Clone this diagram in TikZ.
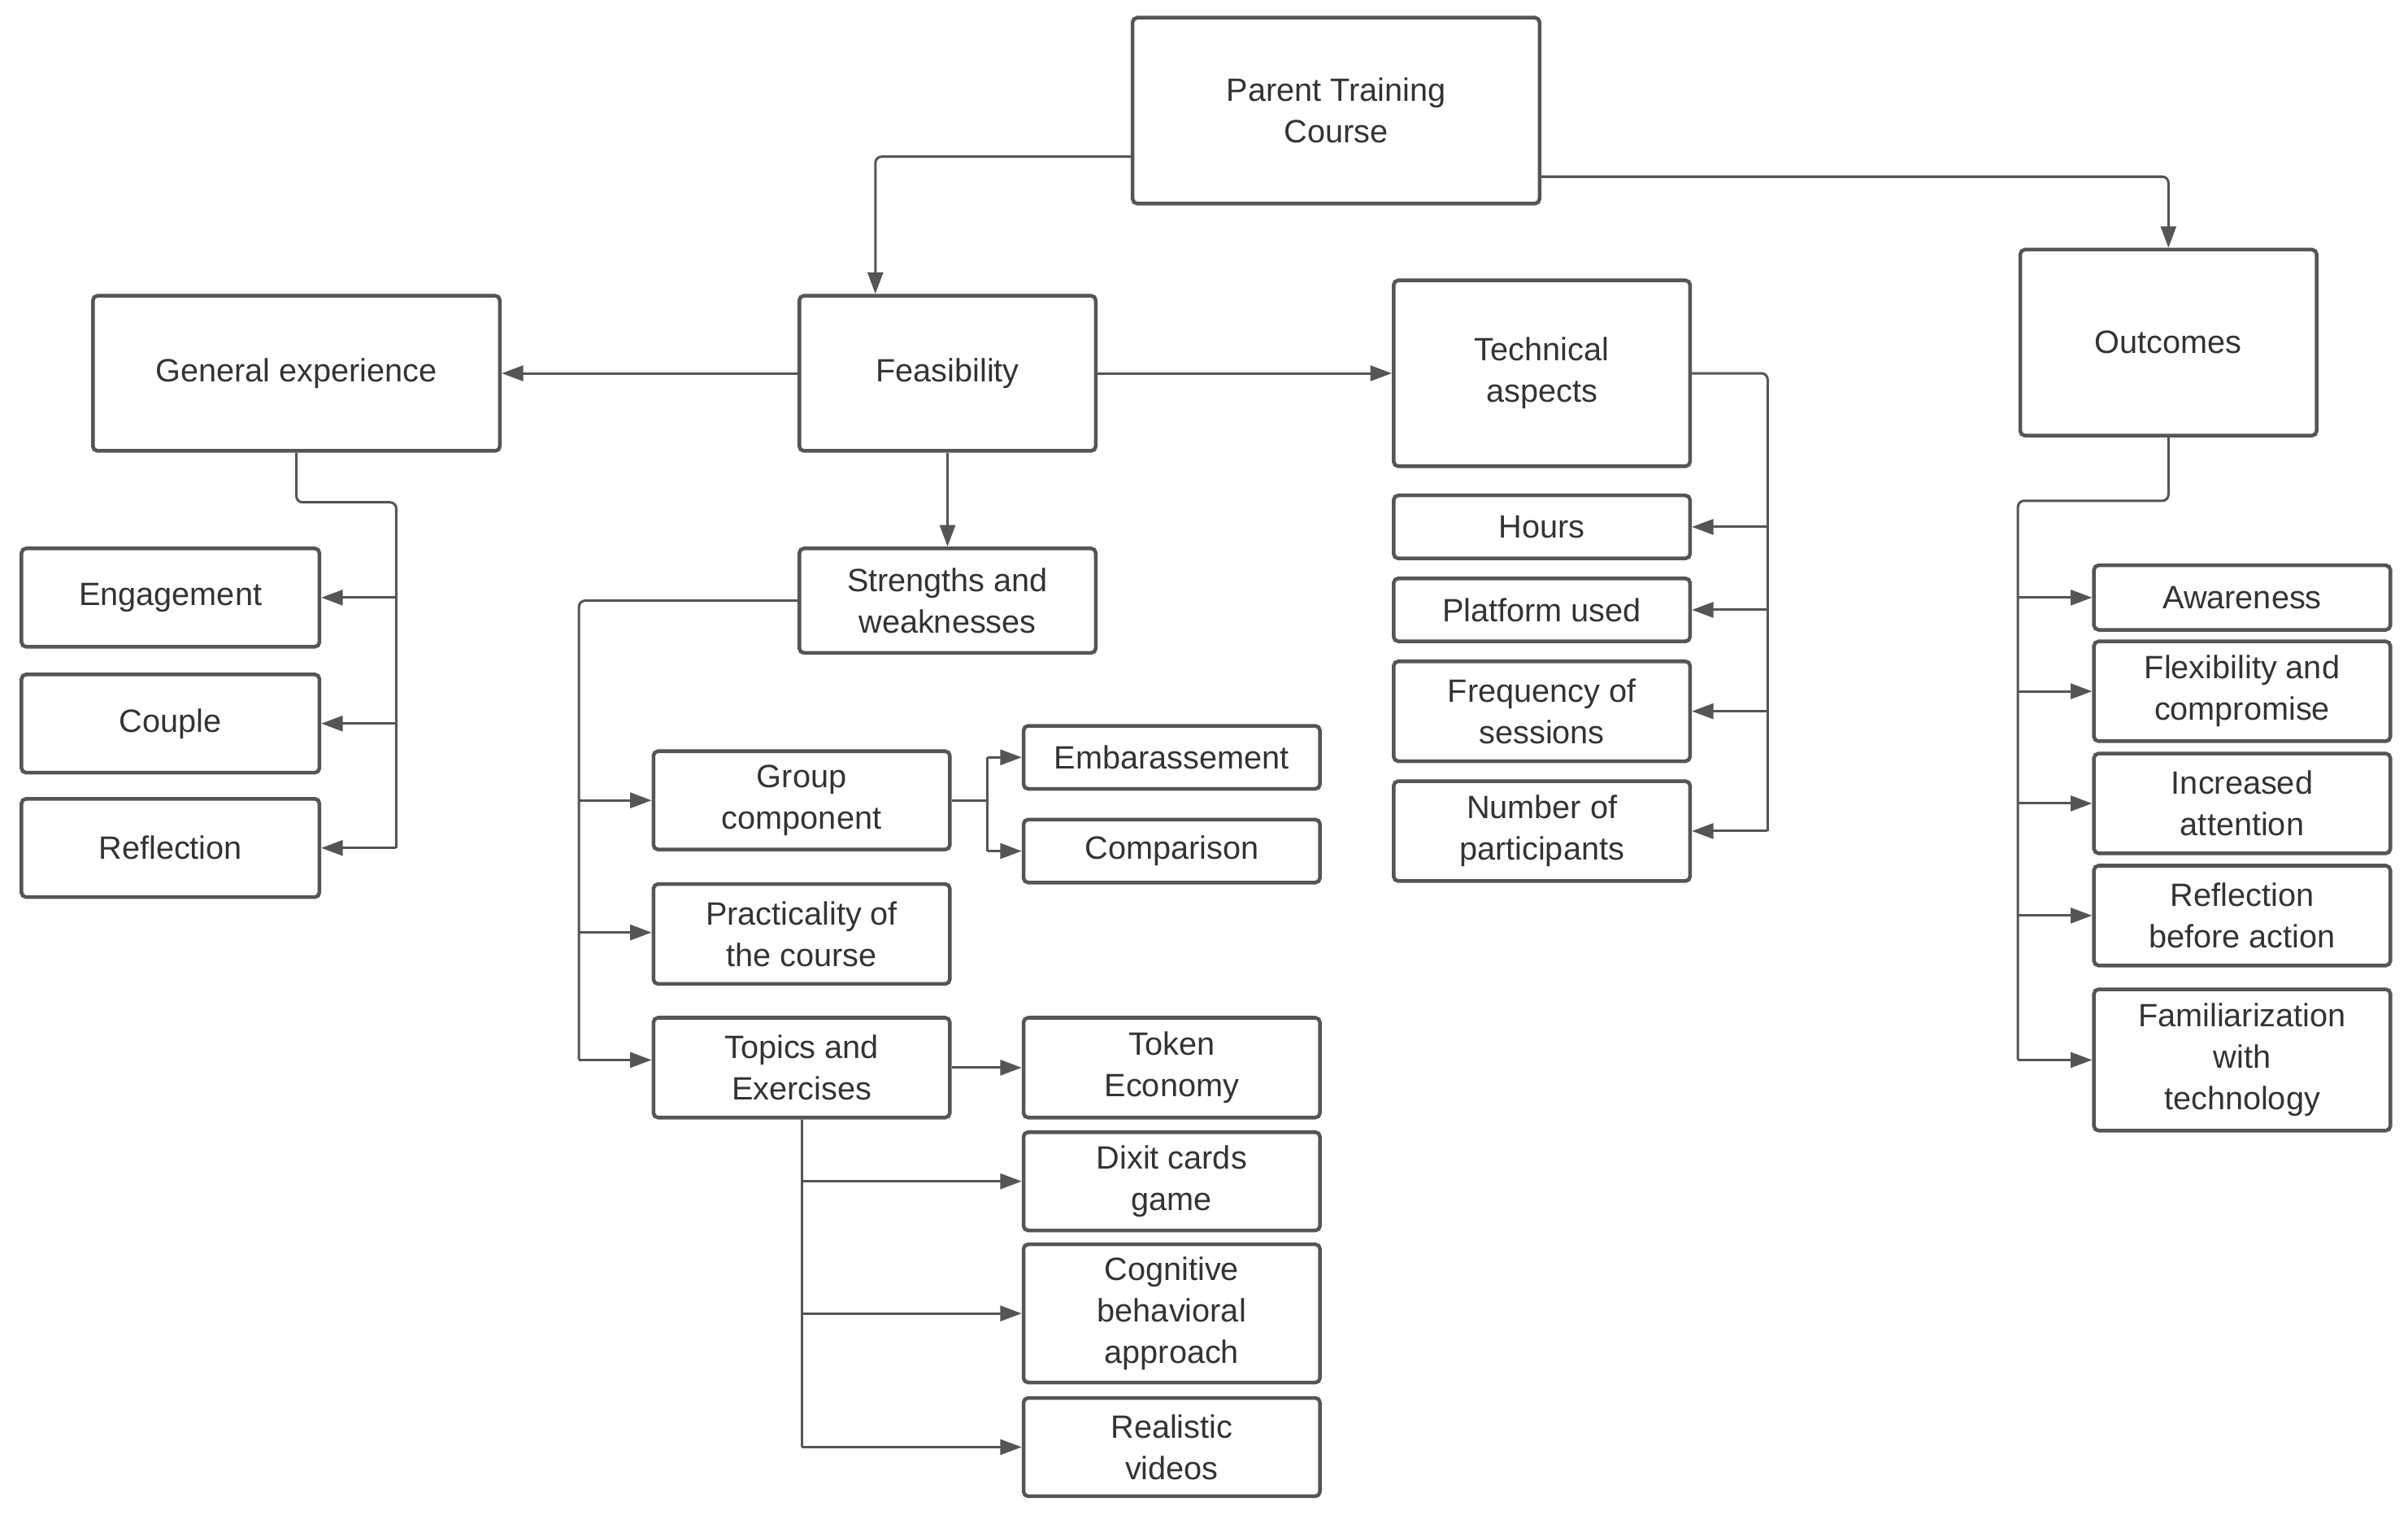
\documentclass[tikz,border=0pt]{standalone}
\usepackage{fontspec}
\setmainfont{Liberation Sans}
\usetikzlibrary{arrows.meta}
\definecolor{ln}{HTML}{555555}
\definecolor{tx}{HTML}{333333}
\begin{document}
\begin{tikzpicture}[x=1pt,y=-1pt,
  box/.style={draw=ln,line width=2.4pt,rounded corners=3pt,align=center,text=tx,
    font=\fontsize{21}{27}\selectfont,inner sep=0pt},
  ar/.style={draw=ln,line width=1.6pt,-{Triangle[length=14pt,width=10pt]}},
  ln/.style={draw=ln,line width=1.6pt,rounded corners=4pt}]
\useasboundingbox (0,0) rectangle (1568,986);
\newcommand{\bx}[6]{\node[box,minimum width=#3,minimum height=#4] (#1) at (#2) {#5};}
\node[box,minimum width=265,minimum height=121] (par) at (870,72) {Parent Training\\Course};
\node[box,minimum width=265,minimum height=101] (gen) at (193,243) {General experience};
\node[box,minimum width=193,minimum height=101] (fea) at (617,243) {Feasibility};
\node[box,minimum width=193,minimum height=121] (tec) at (1004,243) {Technical\\aspects};
\node[box,minimum width=193,minimum height=121] (out) at (1412,223) {Outcomes};
\node[box,minimum width=194,minimum height=64] (eng) at (111,389) {Engagement};
\node[box,minimum width=194,minimum height=64] (cou) at (111,471) {Couple};
\node[box,minimum width=194,minimum height=64] (ref) at (111,552) {Reflection};
\node[box,minimum width=193,minimum height=68] (str) at (617,391) {Strengths and\\weaknesses};
\node[box,minimum width=193,minimum height=64] (grp) at (522,521) {Group\\component};
\node[box,minimum width=193,minimum height=41] (emb) at (763,493) {Embarassement};
\node[box,minimum width=193,minimum height=41] (cmp) at (763,554) {Comparison};
\node[box,minimum width=193,minimum height=65] (pra) at (522,608) {Practicality of\\the course};
\node[box,minimum width=193,minimum height=65] (top) at (522,695) {Topics and\\Exercises};
\node[box,minimum width=193,minimum height=65] (tok) at (763,695) {Token\\Economy};
\node[box,minimum width=193,minimum height=64] (dix) at (763,769) {Dixit cards\\game};
\node[box,minimum width=193,minimum height=90] (cog) at (763,855) {Cognitive\\behavioral\\approach};
\node[box,minimum width=193,minimum height=64] (rea) at (763,942) {Realistic\\videos};
\node[box,minimum width=193,minimum height=41] (hou) at (1004,343) {Hours};
\node[box,minimum width=193,minimum height=41] (pla) at (1004,397) {Platform used};
\node[box,minimum width=193,minimum height=65] (fre) at (1004,463) {Frequency of\\sessions};
\node[box,minimum width=193,minimum height=65] (num) at (1004,541) {Number of\\participants};
\node[box,minimum width=193,minimum height=42] (awa) at (1460,389) {Awareness};
\node[box,minimum width=193,minimum height=65] (fle) at (1460,450) {Flexibility and\\compromise};
\node[box,minimum width=193,minimum height=65] (inc) at (1460,523) {Increased\\attention};
\node[box,minimum width=193,minimum height=65] (rbe) at (1460,596) {Reflection\\before action};
\node[box,minimum width=193,minimum height=92] (fam) at (1460,690) {Familiarization\\with\\technology};
% top
\draw[ar,rounded corners=4pt] (par.west |- 0,102) -| (fea.north -| 570,0);
\draw[ar,rounded corners=4pt] (par.east |- 0,115) -| (out.north);
\draw[ar] (fea) -- (gen);
\draw[ar] (fea) -- (tec);
\draw[ar] (fea) -- (str);
% general
\coordinate (g1) at (258,327);
\draw[ln] (gen.south) |- (g1) -- (258,552);
\foreach \n/\y in {eng/389,cou/471,ref/552} \draw[ar] (258,\y) -- (\n.east |- 0,\y);
% strengths
\draw[ln] (str.west) -| (377,690);
\foreach \n/\y in {grp/521,pra/607,top/690} \draw[ar] (377,\y) -- (\n.west |- 0,\y);
\draw[ln] (grp.east) -- (643,521);
\draw[ln] (643,493) -- (643,554);
\draw[ar] (643,493) -- (emb.west);
\draw[ar] (643,554) -- (cmp.west);
\draw[ar] (top) -- (tok);
\draw[ln] (top.south) -- (522,942);
\foreach \n/\y in {dix/769,cog/855,rea/942} \draw[ar] (522,\y) -- (\n.west |- 0,\y);
% technical
\draw[ln] (tec.east) -| (1151,541);
\foreach \n/\y in {hou/343,pla/397,fre/463,num/541} \draw[ar] (1151,\y) -- (\n.east |- 0,\y);
% outcomes
\draw[ln] (out.south) |- (1314,326) -- (1314,690);
\foreach \n/\y in {awa/389,fle/450,inc/523,rbe/596,fam/690} \draw[ar] (1314,\y) -- (\n.west |- 0,\y);
\end{tikzpicture}
\end{document}
